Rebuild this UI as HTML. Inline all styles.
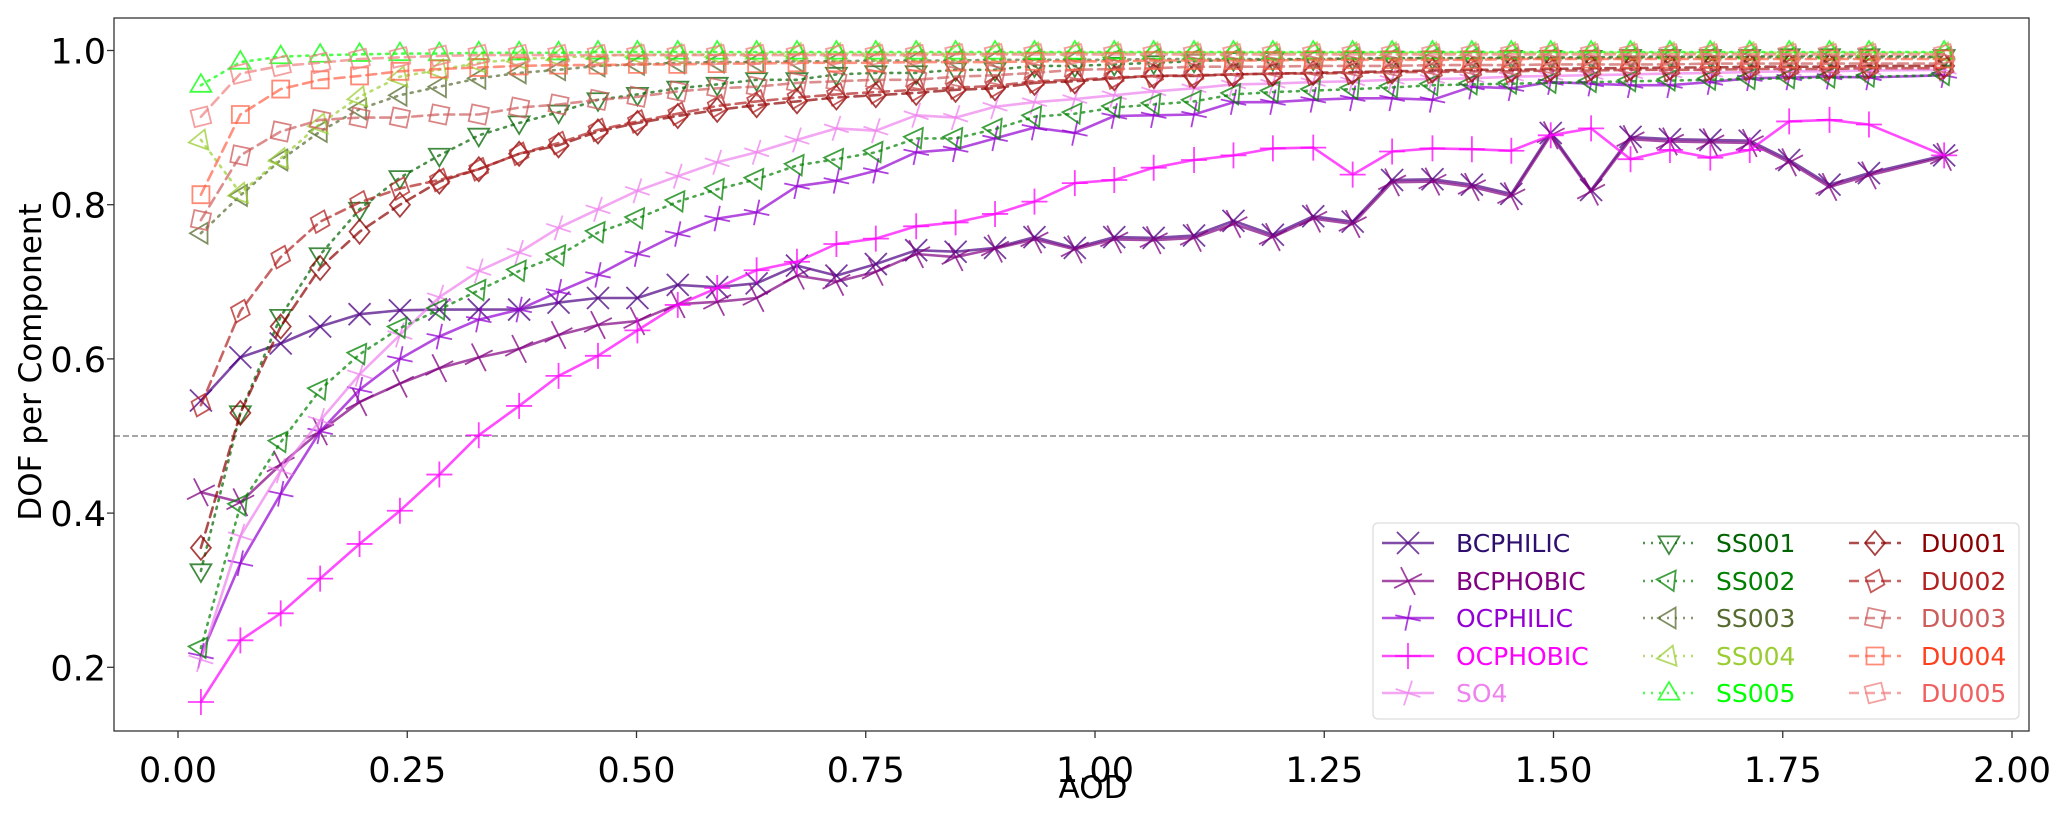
<!DOCTYPE html>
<html><head><meta charset="utf-8"><title>DOF per Component vs AOD</title>
<style>
html,body{margin:0;padding:0;background:#fff;}
svg{display:block;font-family:"DejaVu Sans","Liberation Sans",sans-serif;}
</style></head>
<body>
<svg id="chart" width="2067" height="819" viewBox="0 0 2067 819" xmlns="http://www.w3.org/2000/svg">
<rect x="0" y="0" width="2067" height="819" fill="#fff"/>
<g id="plot"></g>
<g id="axes"></g>
<g id="legend"></g>
</svg>
<script>
const aod = [0.025,0.068,0.112,0.155,0.198,0.242,0.285,0.328,0.372,0.415,0.458,0.501,0.545,0.588,0.631,0.675,0.718,0.761,0.805,0.848,0.891,0.934,0.978,1.021,1.064,1.108,1.151,1.194,1.238,1.281,1.324,1.368,1.411,1.454,1.497,1.541,1.584,1.627,1.671,1.714,1.757,1.801,1.844,1.926];
const bcphilic = [0.546,0.602,0.62,0.642,0.658,0.663,0.664,0.664,0.664,0.673,0.679,0.679,0.696,0.693,0.698,0.721,0.708,0.723,0.741,0.739,0.744,0.758,0.744,0.758,0.757,0.760,0.779,0.761,0.785,0.778,0.832,0.833,0.826,0.814,0.893,0.819,0.888,0.885,0.884,0.883,0.858,0.826,0.841,0.864];
const bcphobic = [0.427,0.414,0.463,0.506,0.544,0.568,0.588,0.602,0.613,0.631,0.644,0.649,0.671,0.674,0.679,0.708,0.700,0.713,0.736,0.732,0.743,0.755,0.742,0.755,0.754,0.757,0.775,0.758,0.782,0.775,0.829,0.830,0.823,0.811,0.890,0.817,0.885,0.882,0.881,0.880,0.855,0.823,0.838,0.862];
const ocphilic = [0.215,0.335,0.425,0.506,0.56,0.60,0.629,0.651,0.664,0.687,0.709,0.736,0.762,0.782,0.79,0.824,0.831,0.844,0.868,0.872,0.886,0.9,0.893,0.915,0.916,0.917,0.933,0.933,0.936,0.938,0.938,0.936,0.953,0.951,0.959,0.957,0.955,0.955,0.959,0.964,0.965,0.966,0.965,0.968];
const ocphobic = [0.155,0.235,0.27,0.315,0.36,0.403,0.45,0.501,0.539,0.578,0.604,0.637,0.670,0.692,0.715,0.726,0.749,0.756,0.772,0.777,0.788,0.804,0.828,0.832,0.848,0.858,0.864,0.873,0.874,0.839,0.869,0.873,0.872,0.870,0.890,0.899,0.859,0.871,0.861,0.871,0.908,0.910,0.904,0.864];
const so4 = [0.21,0.37,0.455,0.52,0.58,0.631,0.68,0.714,0.738,0.77,0.794,0.818,0.837,0.855,0.868,0.884,0.899,0.896,0.916,0.913,0.927,0.933,0.937,0.942,0.947,0.951,0.956,0.957,0.959,0.96,0.962,0.963,0.964,0.966,0.967,0.968,0.969,0.97,0.971,0.972,0.973,0.973,0.974,0.975];
const ss001 = [0.325,0.53,0.655,0.735,0.794,0.835,0.864,0.89,0.906,0.92,0.936,0.943,0.951,0.956,0.962,0.962,0.969,0.971,0.971,0.975,0.975,0.98,0.98,0.982,0.984,0.986,0.988,0.988,0.989,0.989,0.99,0.99,0.99,0.991,0.991,0.991,0.992,0.992,0.992,0.992,0.993,0.993,0.993,0.992];
const ss002 = [0.225,0.41,0.492,0.56,0.606,0.64,0.664,0.689,0.714,0.734,0.764,0.782,0.804,0.82,0.833,0.851,0.859,0.868,0.886,0.886,0.898,0.914,0.918,0.926,0.93,0.934,0.943,0.946,0.948,0.95,0.952,0.955,0.956,0.957,0.958,0.959,0.96,0.961,0.962,0.963,0.964,0.965,0.966,0.968];
const ss003 = [0.763,0.812,0.858,0.895,0.924,0.942,0.953,0.964,0.971,0.975,0.98,0.982,0.984,0.985,0.985,0.986,0.986,0.987,0.987,0.987,0.988,0.988,0.988,0.988,0.989,0.989,0.989,0.989,0.989,0.990,0.990,0.990,0.990,0.990,0.990,0.990,0.990,0.991,0.991,0.991,0.991,0.991,0.991,0.991];
const ss004 = [0.884,0.815,0.86,0.905,0.94,0.966,0.975,0.984,0.989,0.991,0.993,0.995,0.995,0.995,0.996,0.996,0.996,0.996,0.996,0.996,0.996,0.997,0.997,0.997,0.997,0.997,0.997,0.997,0.997,0.997,0.997,0.997,0.997,0.997,0.997,0.997,0.997,0.997,0.997,0.997,0.997,0.997,0.997,0.997];
const ss005 = [0.955,0.985,0.992,0.994,0.995,0.996,0.996,0.997,0.997,0.997,0.998,0.998,0.998,0.998,0.998,0.998,0.998,0.998,0.998,0.998,0.998,0.998,0.998,0.998,0.998,0.998,0.998,0.998,0.998,0.998,0.998,0.998,0.998,0.998,0.998,0.998,0.998,0.998,0.998,0.998,0.998,0.998,0.998,0.998];
const du001 = [0.355,0.53,0.642,0.718,0.765,0.80,0.83,0.846,0.866,0.877,0.895,0.906,0.915,0.923,0.929,0.934,0.939,0.942,0.945,0.949,0.951,0.958,0.96,0.964,0.967,0.967,0.969,0.97,0.971,0.972,0.973,0.974,0.975,0.975,0.976,0.977,0.977,0.978,0.978,0.979,0.979,0.979,0.98,0.98];
const du002 = [0.54,0.662,0.732,0.778,0.803,0.821,0.832,0.846,0.866,0.88,0.897,0.908,0.918,0.928,0.934,0.939,0.943,0.946,0.949,0.952,0.954,0.96,0.962,0.965,0.967,0.968,0.969,0.97,0.97,0.971,0.972,0.972,0.973,0.973,0.974,0.974,0.975,0.975,0.975,0.976,0.976,0.976,0.977,0.977];
const du003 = [0.78,0.864,0.895,0.91,0.913,0.913,0.917,0.917,0.926,0.93,0.936,0.94,0.947,0.951,0.953,0.958,0.96,0.962,0.962,0.966,0.968,0.971,0.975,0.976,0.977,0.979,0.979,0.979,0.98,0.98,0.98,0.981,0.981,0.981,0.982,0.982,0.982,0.982,0.983,0.983,0.983,0.983,0.983,0.983];
const du004 = [0.813,0.917,0.95,0.962,0.967,0.973,0.976,0.978,0.98,0.981,0.981,0.982,0.982,0.983,0.983,0.984,0.984,0.984,0.985,0.985,0.985,0.986,0.986,0.986,0.987,0.987,0.987,0.987,0.988,0.988,0.988,0.988,0.988,0.989,0.989,0.989,0.989,0.989,0.989,0.989,0.989,0.989,0.989,0.989];
const du005 = [0.914,0.97,0.98,0.984,0.989,0.991,0.993,0.994,0.994,0.994,0.994,0.994,0.994,0.994,0.994,0.994,0.994,0.994,0.994,0.995,0.995,0.995,0.995,0.995,0.995,0.995,0.995,0.995,0.995,0.995,0.995,0.995,0.995,0.995,0.995,0.995,0.995,0.995,0.995,0.995,0.995,0.995,0.995,0.995];
const xTicks = [0, 0.25, 0.5, 0.75, 1.0, 1.25, 1.5, 1.75, 2.0];
const xTickLabels = ["0.00","0.25","0.50","0.75","1.00","1.25","1.50","1.75","2.00"];
const yTicks = [0.2, 0.4, 0.6, 0.8, 1.0];
const yTickLabels = ["0.2","0.4","0.6","0.8","1.0"];
const seriesNames = ["BCPHILIC","BCPHOBIC","OCPHILIC","OCPHOBIC","SO4","SS001","SS002","SS003","SS004","SS005","DU001","DU002","DU003","DU004","DU005"];
const seriesValues = [bcphilic,bcphobic,ocphilic,ocphobic,so4,ss001,ss002,ss003,ss004,ss005,du001,du002,du003,du004,du005];

const styles = [
 {c:"#4b0082",m:"x",r:0,dash:null},
 {c:"#800080",m:"x",r:18,dash:null},
 {c:"#9400d3",m:"+",r:12,dash:null},
 {c:"#ff00ff",m:"+",r:0,dash:null},
 {c:"#ee82ee",m:"+",r:18,dash:null},
 {c:"#006400",m:"v",r:0,dash:"2 6"},
 {c:"#008000",m:"v",r:-25,dash:"2 6"},
 {c:"#556b2f",m:"v",r:90,dash:"2 6"},
 {c:"#9acd32",m:"v",r:200,dash:"2 6"},
 {c:"#00ff00",m:"v",r:180,dash:"2 6"},
 {c:"#8b0000",m:"D",r:0,dash:"10 6"},
 {c:"#b22222",m:"D",r:20,dash:"10 6"},
 {c:"#cd5c5c",m:"s",r:12,dash:"10 6"},
 {c:"#ff6347",m:"s",r:0,dash:"10 6"},
 {c:"#f08080",m:"s",r:-14,dash:"10 6"}
];
const textColors = ["#2e0e6e","#800080","#9400d3","#ff00ff","#ee82ee","#006400","#008000","#556b2f","#9acd32","#00ff00","#8b0000","#b22222","#cd5c5c","#ff4020","#f06060"];

const NS = "http://www.w3.org/2000/svg";
const L = 114, R = 2029, T = 18, B = 731;
function X(v){ return 178 + v * 917; }
function Y(v){ return 50.5 + (1 - v) * 771; }
function mk(tag, attrs, parent){
  const e = document.createElementNS(NS, tag);
  for (const k in attrs) e.setAttribute(k, attrs[k]);
  parent.appendChild(e);
  return e;
}
function markerPath(type){
  const r = 11;
  if (type === "x") return `M${-r},${-r}L${r},${r}M${-r},${r}L${r},${-r}`;
  if (type === "+") return `M${-r-2},0L${r+2},0M0,${-r-2}L0,${r+2}`;
  if (type === "v") return `M0,${r}L${-0.95*r},${-0.6*r}L${0.95*r},${-0.6*r}Z`;
  if (type === "D") return `M0,${-r-1}L${r-1},0L0,${r+1}L${-r+1},0Z`;
  if (type === "s") return `M${-8.5},${-8.5}L8.5,${-8.5}L8.5,8.5L${-8.5},8.5Z`;
}
function drawMarker(parent, cx, cy, st){
  return mk("path", {d: markerPath(st.m), transform:`translate(${cx},${cy}) rotate(${st.r})`, fill:"none", stroke:st.c, "stroke-width":1.8, "stroke-opacity":0.75}, parent);
}

const plot = document.getElementById("plot");
const axes = document.getElementById("axes");
const legend = document.getElementById("legend");

const refLine = mk("line", {x1:L, x2:R, y1:Y(0.5), y2:Y(0.5), stroke:"#888", "stroke-width":1.5, "stroke-dasharray":"6 3"}, plot);



seriesValues.forEach((vals, si) => {
  const st = styles[si];
  const g = mk("g", {}, plot);
  
  
  const d = vals.map((v, i) => (i ? "L" : "M") + X(aod[i]).toFixed(1) + "," + Y(v).toFixed(1)).join("");
  const line = mk("path", {d:d, fill:"none", stroke:st.c, "stroke-width":2.6, "stroke-opacity":0.7, "stroke-linecap":"round", "stroke-linejoin":"round"}, g);
  if (st.dash) line.setAttribute("stroke-dasharray", st.dash);
  
  
  vals.forEach((v, i) => {
    const m = drawMarker(g, X(aod[i]), Y(v), st);
    
    
  });
});

const frame = mk("rect", {x:L, y:T, width:R-L, height:B-T, fill:"none", stroke:"#333", "stroke-width":1.3}, axes);



xTicks.forEach((t, i) => {
  const tk = mk("line", {x1:X(t), x2:X(t), y1:B, y2:B+7, stroke:"#333", "stroke-width":1.3}, axes);
  
  
  const tx = mk("text", {x:X(t), y:782, "font-size":35, "text-anchor":"middle", fill:"#000"}, axes);
  tx.textContent = xTickLabels[i];
  
  
});
yTicks.forEach((t, i) => {
  const tk = mk("line", {x1:L-7, x2:L, y1:Y(t), y2:Y(t), stroke:"#333", "stroke-width":1.3}, axes);
  
  
  const tx = mk("text", {x:106, y:Y(t)+13, "font-size":35, "text-anchor":"end", fill:"#000"}, axes);
  tx.textContent = yTickLabels[i];
  
  
});
const xl = mk("text", {x:1093, y:798, "font-size":31, "text-anchor":"middle", fill:"#000"}, axes);
xl.textContent = "AOD";


const yl = mk("text", {x:0, y:0, "font-size":31, "text-anchor":"middle", fill:"#000", transform:"translate(41,362) rotate(-90)"}, axes);
yl.textContent = "DOF per Component";



const lbox = mk("rect", {x:1373, y:523, width:646, height:196, rx:5, fill:"#fff", "fill-opacity":0.85, stroke:"#ddd", "stroke-width":1.3}, legend);


const colHandle = [1382, 1643, 1849];
const colText = [1456, 1716, 1921];
const rowY = [543, 581, 618, 656, 693];
seriesNames.forEach((name, si) => {
  const col = Math.floor(si / 5), row = si % 5;
  const st = styles[si];
  const g = mk("g", {}, legend);
  
  
  const hl = mk("line", {x1:colHandle[col], x2:colHandle[col]+52, y1:rowY[row], y2:rowY[row], stroke:st.c, "stroke-width":2.6, "stroke-opacity":0.7}, g);
  if (st.dash) hl.setAttribute("stroke-dasharray", st.dash);
  drawMarker(g, colHandle[col]+26, rowY[row], st);
  const t = mk("text", {x:colText[col], y:rowY[row]+9, "font-size":25, fill:textColors[si]}, g);
  t.textContent = name;
});
</script>
</body></html>
